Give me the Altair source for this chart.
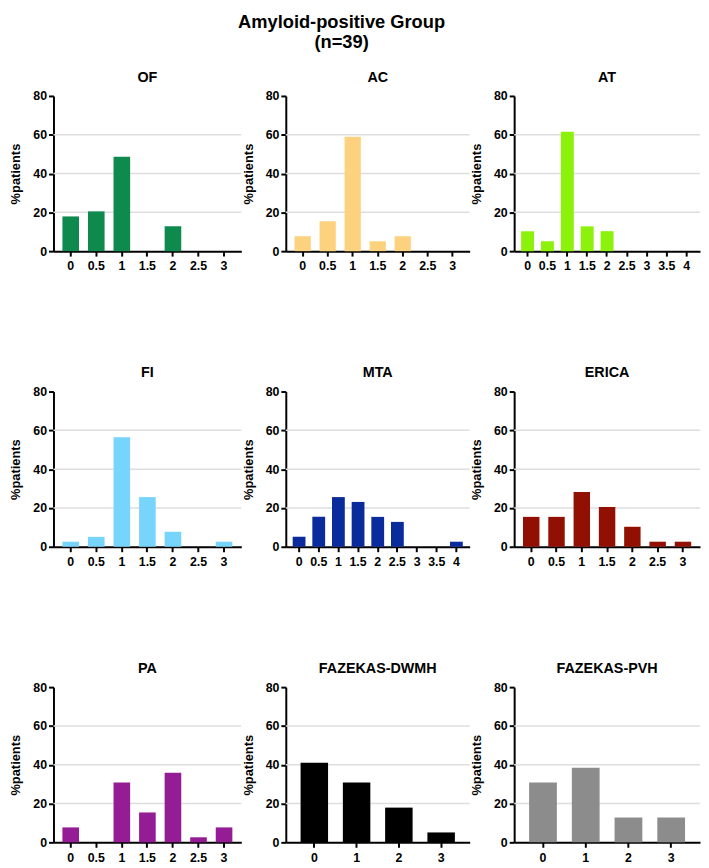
import altair as alt
import pandas as pd

main_title = ["Amyloid-positive Group", "(n=39)"]
y_title = "%patients"

scale_half_7 = ["0", "0.5", "1", "1.5", "2", "2.5", "3"]
scale_half_9 = ["0", "0.5", "1", "1.5", "2", "2.5", "3", "3.5", "4"]
scale_int_4 = ["0", "1", "2", "3"]

panel_names = ["OF", "AC", "AT", "FI", "MTA", "ERICA", "PA", "FAZEKAS-DWMH", "FAZEKAS-PVH"]
panel_colors = ["#0f8a4f", "#fdd27f", "#8cf20c", "#77d5fd", "#0a2b9c",
                "#921003", "#941c94", "#000000", "#8c8c8c"]

of_values = [17.9, 20.5, 48.7, 0, 12.8, 0, 0]
ac_values = [7.7, 15.4, 59.0, 5.1, 7.7, 0, 0]
at_values = [10.3, 5.1, 61.5, 12.8, 10.3, 0, 0, 0, 0]
fi_values = [2.6, 5.1, 56.4, 25.6, 7.7, 0, 2.6]
mta_values = [5.1, 15.4, 25.6, 23.1, 15.4, 12.8, 0, 0, 2.6]
erica_values = [15.4, 15.4, 28.2, 20.5, 10.3, 2.6, 2.6]
pa_values = [7.7, 0, 30.8, 15.4, 35.9, 2.6, 7.7]
dwmh_values = [41.0, 30.8, 17.9, 5.1]
pvh_values = [30.8, 38.5, 12.8, 12.8]

y_ticks = [0, 20, 40, 60, 80]
grid_values = [20, 40, 60]

panel_cats = [scale_half_7, scale_half_7, scale_half_9,
              scale_half_7, scale_half_9, scale_half_7,
              scale_half_7, scale_int_4, scale_int_4]
panel_vals = [of_values, ac_values, at_values, fi_values, mta_values,
              erica_values, pa_values, dwmh_values, pvh_values]
col_widths = [190, 186, 188]

FONT = "Liberation Sans"


def panel(name, cats, vals, color, width):
    df = pd.DataFrame({"score": cats, "pct": vals})
    yscale = alt.Scale(domain=[0, 80], nice=False)
    yaxis = alt.Axis(values=y_ticks, grid=False, titlePadding=10)
    grid = alt.Chart(pd.DataFrame({"v": grid_values})).mark_rule(
        color="#dedede", strokeWidth=1.5
    ).encode(y=alt.Y("v:Q", scale=yscale, title=y_title, axis=yaxis))
    bars = alt.Chart(df).mark_bar(color=color).encode(
        x=alt.X("score:N", sort=cats,
                scale=alt.Scale(paddingInner=0.35, paddingOuter=0.35),
                axis=alt.Axis(title=None, labelAngle=0, labelPadding=4)),
        y=alt.Y("pct:Q", scale=yscale, title=y_title, axis=yaxis),
    )
    return alt.layer(grid, bars).properties(
        width=width, height=157,
        title=alt.TitleParams(name, fontSize=14.5, font=FONT, fontWeight="bold",
                              anchor="middle", offset=5, color="black"),
    )


rows = []
for r in range(3):
    row = []
    for c in range(3):
        i = r * 3 + c
        row.append(panel(panel_names[i], panel_cats[i], panel_vals[i],
                         panel_colors[i], col_widths[c]))
    rows.append(alt.hconcat(*row, spacing=0))

chart = alt.vconcat(*rows, spacing=93).properties(
    title=alt.TitleParams(main_title, fontSize=18.5, font=FONT, fontWeight="bold",
                          anchor="middle", lineHeight=21, color="black", dx=-14,
                          offset=18),
    padding={"left": 2, "top": 0, "right": 0, "bottom": 0},
).configure_view(stroke=None).configure_axis(
    domainColor="black", domainWidth=2, tickColor="black", tickWidth=2,
    tickSize=5, labelFont=FONT, labelFontWeight="bold", labelFontSize=12.5,
    labelColor="black", titleFont=FONT, titleFontWeight="bold",
    titleFontSize=13, titleColor="black"
)

chart.save("out.html", embed_options={"renderer": "svg", "actions": False})
